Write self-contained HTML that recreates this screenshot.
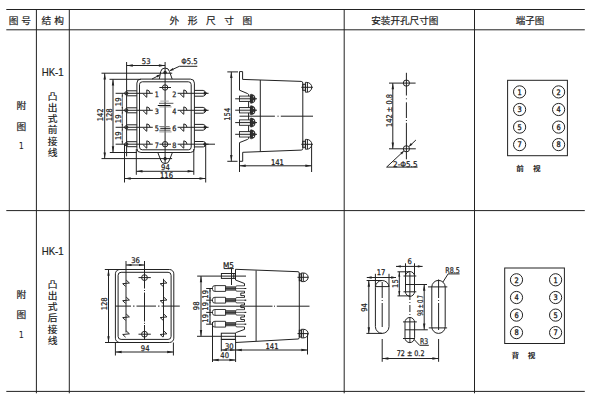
<!DOCTYPE html>
<html lang="zh"><head><meta charset="utf-8"><title>HK-1 外形尺寸图</title>
<style>html,body{margin:0;padding:0;background:#fff;overflow:hidden}svg{display:block}text{white-space:pre;fill:#222}
.c{font-family:"Liberation Sans","Noto Sans CJK SC",sans-serif}
.d{font-family:"DejaVu Sans","Liberation Sans",sans-serif}</style>
</head><body>
<svg width="600" height="400" viewBox="0 0 600 400">
<rect width="600" height="400" fill="#fff"/>
<line x1="6.30" y1="9.50" x2="584.80" y2="9.50" stroke="#222" stroke-width="1"/>
<line x1="6.30" y1="29.80" x2="584.80" y2="29.80" stroke="#222" stroke-width="1"/>
<line x1="6.30" y1="210.60" x2="584.80" y2="210.60" stroke="#222" stroke-width="1"/>
<line x1="6.30" y1="391.40" x2="584.80" y2="391.40" stroke="#222" stroke-width="1"/>
<line x1="36.40" y1="9.50" x2="36.40" y2="393.30" stroke="#222" stroke-width="1"/>
<line x1="69.30" y1="9.50" x2="69.30" y2="393.30" stroke="#222" stroke-width="1"/>
<line x1="344.20" y1="9.50" x2="344.20" y2="393.30" stroke="#222" stroke-width="1"/>
<line x1="474.50" y1="9.50" x2="474.50" y2="393.30" stroke="#222" stroke-width="1"/>
<text class="c" x="8.8 21.3" y="26.30" font-size="9.7" transform="scale(1 0.92)" stroke="#222" stroke-width="0.2">图号</text>
<text class="c" x="41.4 54.3" y="26.30" font-size="9.7" transform="scale(1 0.92)" stroke="#222" stroke-width="0.2">结构</text>
<text class="c" x="169.6 187.7 205.9 224.3 242.6" y="26.30" font-size="9.7" transform="scale(1 0.92)" stroke="#222" stroke-width="0.2">外形尺寸图</text>
<text class="c" x="371.20" y="26.30" font-size="9.7" transform="scale(1 0.92)" textLength="67.2" lengthAdjust="spacingAndGlyphs" stroke="#222" stroke-width="0.2">安装开孔尺寸图</text>
<text class="c" x="515.80" y="26.30" font-size="9.7" transform="scale(1 0.92)" textLength="28.6" lengthAdjust="spacingAndGlyphs" stroke="#222" stroke-width="0.2">端子图</text>
<text class="c" x="52.70" y="76.00" font-size="11.4" text-anchor="middle" textLength="22" lengthAdjust="spacingAndGlyphs" stroke="#222" stroke-width="0.2">HK-1</text>
<text class="c" x="21.30" y="118.91" font-size="9.7" text-anchor="middle" transform="scale(1 0.92)" stroke="#222" stroke-width="0.2">附</text>
<text class="c" x="21.30" y="140.87" font-size="9.7" text-anchor="middle" transform="scale(1 0.92)" stroke="#222" stroke-width="0.2">图</text>
<text class="d" x="21.30" y="149.20" font-size="9.2" text-anchor="middle" textLength="5.12" lengthAdjust="spacingAndGlyphs">1</text>
<text class="c" x="47.7 47.7 47.7 47.7 47.7 47.7" y="108.91 120.98 133.04 145.11 157.17 169.24" font-size="9.7" transform="scale(1 0.92)" stroke="#222" stroke-width="0.2">凸出式前接线</text>
<text class="c" x="52.70" y="254.60" font-size="11.4" text-anchor="middle" textLength="22" lengthAdjust="spacingAndGlyphs" stroke="#222" stroke-width="0.2">HK-1</text>
<text class="c" x="21.30" y="324.24" font-size="9.7" text-anchor="middle" transform="scale(1 0.92)" stroke="#222" stroke-width="0.2">附</text>
<text class="c" x="21.30" y="346.09" font-size="9.7" text-anchor="middle" transform="scale(1 0.92)" stroke="#222" stroke-width="0.2">图</text>
<text class="d" x="21.30" y="337.70" font-size="9.2" text-anchor="middle" textLength="5.12" lengthAdjust="spacingAndGlyphs">1</text>
<text class="c" x="47.7 47.7 47.7 47.7 47.7 47.7" y="313.26 325.33 337.39 349.46 361.52 373.59" font-size="9.7" transform="scale(1 0.92)" stroke="#222" stroke-width="0.2">凸出式后接线</text>
<line x1="165.10" y1="62.00" x2="165.10" y2="163.30" stroke="#222" stroke-width="1.0"/>
<rect x="136.90" y="79.10" width="57.50" height="73.40" rx="4" stroke="#222" stroke-width="1.0" fill="none"/>
<rect x="139.50" y="81.80" width="51.70" height="68.00" rx="2.8" stroke="#222" stroke-width="1.0" fill="none"/>
<path d="M159.29999999999998,79.1 L160.7,71.6 A4.5,4.5 0 0 1 169.5,71.6 L172.2,79.1" stroke="#222" stroke-width="1.0" fill="none"/>
<circle cx="165.10" cy="72.50" r="1.3" stroke="#222" stroke-width="1.0" fill="#333"/>
<path d="M157.79999999999998,152.5 L160.7,160 A4.5,4.5 0 0 0 169.5,160 L172.4,152.5" stroke="#222" stroke-width="1.0" fill="none"/>
<circle cx="165.10" cy="158.70" r="1.3" stroke="#222" stroke-width="1.0" fill="#333"/>
<circle cx="165.10" cy="87.50" r="2.7" stroke="#222" stroke-width="1.0" fill="none"/>
<line x1="159.40" y1="87.50" x2="171.00" y2="87.50" stroke="#222" stroke-width="1.0"/>
<circle cx="165.10" cy="144.20" r="2.7" stroke="#222" stroke-width="1.0" fill="none"/>
<line x1="159.40" y1="144.20" x2="171.00" y2="144.20" stroke="#222" stroke-width="1.0"/>
<line x1="115.60" y1="93.30" x2="152.80" y2="93.30" stroke="#222" stroke-width="1.0"/>
<circle cx="126.30" cy="93.30" r="1.6" stroke="#222" stroke-width="1.0" fill="none"/>
<line x1="127.00" y1="90.80" x2="136.90" y2="90.80" stroke="#222" stroke-width="1.0"/>
<line x1="127.00" y1="95.80" x2="136.90" y2="95.80" stroke="#222" stroke-width="1.0"/>
<path d="M146.80,89.90 L146.80,97.30 M146.80,89.90 Q149.70,90.10 150.00,93.30 M143.30,93.80 Q144.20,95.50 146.80,97.30" stroke="#222" stroke-width="1.0" fill="none"/>
<text class="d" x="156.90" y="96.70" font-size="7.4" text-anchor="middle" textLength="4.12" lengthAdjust="spacingAndGlyphs" stroke="#222" stroke-width="0.25">1</text>
<text class="d" x="174.20" y="96.70" font-size="7.4" text-anchor="middle" textLength="4.12" lengthAdjust="spacingAndGlyphs" stroke="#222" stroke-width="0.25">2</text>
<line x1="177.60" y1="93.30" x2="208.60" y2="93.30" stroke="#222" stroke-width="1.0"/>
<path d="M183.80,89.90 L183.80,97.30 M183.80,89.90 Q186.70,90.10 187.00,93.30 M180.30,93.80 Q181.20,95.50 183.80,97.30" stroke="#222" stroke-width="1.0" fill="none"/>
<path d="M194.4,90.40 L203.2,90.40 Q205.2,90.70 206.3,93.30 Q205.2,95.90 203.2,96.20 L194.4,96.20" stroke="#222" stroke-width="1.0" fill="none"/>
<polygon points="207.80,93.30 203.80,95.00 203.80,91.60" fill="#222"/>
<line x1="115.60" y1="110.30" x2="152.80" y2="110.30" stroke="#222" stroke-width="1.0"/>
<circle cx="126.30" cy="110.30" r="1.6" stroke="#222" stroke-width="1.0" fill="none"/>
<line x1="127.00" y1="107.80" x2="136.90" y2="107.80" stroke="#222" stroke-width="1.0"/>
<line x1="127.00" y1="112.80" x2="136.90" y2="112.80" stroke="#222" stroke-width="1.0"/>
<path d="M146.80,106.90 L146.80,114.30 M146.80,106.90 Q149.70,107.10 150.00,110.30 M143.30,110.80 Q144.20,112.50 146.80,114.30" stroke="#222" stroke-width="1.0" fill="none"/>
<text class="d" x="156.90" y="113.70" font-size="7.4" text-anchor="middle" textLength="4.12" lengthAdjust="spacingAndGlyphs" stroke="#222" stroke-width="0.25">3</text>
<text class="d" x="174.20" y="113.70" font-size="7.4" text-anchor="middle" textLength="4.12" lengthAdjust="spacingAndGlyphs" stroke="#222" stroke-width="0.25">4</text>
<line x1="177.60" y1="110.30" x2="208.60" y2="110.30" stroke="#222" stroke-width="1.0"/>
<path d="M183.80,106.90 L183.80,114.30 M183.80,106.90 Q186.70,107.10 187.00,110.30 M180.30,110.80 Q181.20,112.50 183.80,114.30" stroke="#222" stroke-width="1.0" fill="none"/>
<path d="M194.4,107.40 L203.2,107.40 Q205.2,107.70 206.3,110.30 Q205.2,112.90 203.2,113.20 L194.4,113.20" stroke="#222" stroke-width="1.0" fill="none"/>
<polygon points="207.80,110.30 203.80,112.00 203.80,108.60" fill="#222"/>
<line x1="115.60" y1="127.30" x2="152.80" y2="127.30" stroke="#222" stroke-width="1.0"/>
<circle cx="126.30" cy="127.30" r="1.6" stroke="#222" stroke-width="1.0" fill="none"/>
<line x1="127.00" y1="124.80" x2="136.90" y2="124.80" stroke="#222" stroke-width="1.0"/>
<line x1="127.00" y1="129.80" x2="136.90" y2="129.80" stroke="#222" stroke-width="1.0"/>
<path d="M146.80,123.90 L146.80,131.30 M146.80,123.90 Q149.70,124.10 150.00,127.30 M143.30,127.80 Q144.20,129.50 146.80,131.30" stroke="#222" stroke-width="1.0" fill="none"/>
<text class="d" x="156.90" y="130.70" font-size="7.4" text-anchor="middle" textLength="4.12" lengthAdjust="spacingAndGlyphs" stroke="#222" stroke-width="0.25">5</text>
<text class="d" x="174.20" y="130.70" font-size="7.4" text-anchor="middle" textLength="4.12" lengthAdjust="spacingAndGlyphs" stroke="#222" stroke-width="0.25">6</text>
<line x1="177.60" y1="127.30" x2="208.60" y2="127.30" stroke="#222" stroke-width="1.0"/>
<path d="M183.80,123.90 L183.80,131.30 M183.80,123.90 Q186.70,124.10 187.00,127.30 M180.30,127.80 Q181.20,129.50 183.80,131.30" stroke="#222" stroke-width="1.0" fill="none"/>
<path d="M194.4,124.40 L203.2,124.40 Q205.2,124.70 206.3,127.30 Q205.2,129.90 203.2,130.20 L194.4,130.20" stroke="#222" stroke-width="1.0" fill="none"/>
<polygon points="207.80,127.30 203.80,129.00 203.80,125.60" fill="#222"/>
<line x1="115.60" y1="144.20" x2="152.80" y2="144.20" stroke="#222" stroke-width="1.0"/>
<circle cx="126.30" cy="144.20" r="1.6" stroke="#222" stroke-width="1.0" fill="none"/>
<line x1="127.00" y1="141.70" x2="136.90" y2="141.70" stroke="#222" stroke-width="1.0"/>
<line x1="127.00" y1="146.70" x2="136.90" y2="146.70" stroke="#222" stroke-width="1.0"/>
<path d="M146.80,140.80 L146.80,148.20 M146.80,140.80 Q149.70,141.00 150.00,144.20 M143.30,144.70 Q144.20,146.40 146.80,148.20" stroke="#222" stroke-width="1.0" fill="none"/>
<text class="d" x="156.90" y="147.60" font-size="7.4" text-anchor="middle" textLength="4.12" lengthAdjust="spacingAndGlyphs" stroke="#222" stroke-width="0.25">7</text>
<text class="d" x="174.20" y="147.60" font-size="7.4" text-anchor="middle" textLength="4.12" lengthAdjust="spacingAndGlyphs" stroke="#222" stroke-width="0.25">8</text>
<line x1="177.60" y1="144.20" x2="208.60" y2="144.20" stroke="#222" stroke-width="1.0"/>
<path d="M183.80,140.80 L183.80,148.20 M183.80,140.80 Q186.70,141.00 187.00,144.20 M180.30,144.70 Q181.20,146.40 183.80,148.20" stroke="#222" stroke-width="1.0" fill="none"/>
<path d="M194.4,141.50 L203.4,141.50 Q205.6,141.70 205.6,144.20 Q205.6,146.70 203.4,146.90 L194.4,146.90" stroke="#222" stroke-width="1.0" fill="none"/>
<circle cx="204.90" cy="144.20" r="1.2" stroke="#222" stroke-width="0.8" fill="#222"/>
<line x1="160.30" y1="101.10" x2="168.80" y2="101.10" stroke="#aaa" stroke-width="1.0"/>
<line x1="159.00" y1="103.30" x2="173.40" y2="103.30" stroke="#444" stroke-width="0.9"/>
<line x1="157.80" y1="105.50" x2="170.50" y2="105.50" stroke="#111" stroke-width="1.0"/>
<line x1="159.30" y1="106.90" x2="171.50" y2="106.90" stroke="#888" stroke-width="0.9"/>
<line x1="159.30" y1="126.50" x2="169.70" y2="126.50" stroke="#777" stroke-width="0.9"/>
<line x1="160.30" y1="128.30" x2="170.50" y2="128.30" stroke="#111" stroke-width="1.0"/>
<line x1="159.30" y1="130.20" x2="170.50" y2="130.20" stroke="#444" stroke-width="0.9"/>
<line x1="159.30" y1="131.90" x2="171.50" y2="131.90" stroke="#888" stroke-width="0.9"/>
<line x1="126.60" y1="62.00" x2="126.60" y2="156.30" stroke="#222" stroke-width="1.0"/>
<line x1="126.60" y1="65.50" x2="165.10" y2="65.50" stroke="#222" stroke-width="1.0"/>
<polygon points="126.60,65.50 132.80,64.30 132.80,66.70" fill="#222"/>
<polygon points="165.10,65.50 158.90,66.70 158.90,64.30" fill="#222"/>
<text class="d" x="146.20" y="63.60" font-size="7.8" text-anchor="middle" textLength="8.68" lengthAdjust="spacingAndGlyphs" stroke="#222" stroke-width="0.25">53</text>
<line x1="170.00" y1="70.60" x2="179.40" y2="66.30" stroke="#222" stroke-width="1.0"/>
<line x1="179.40" y1="66.30" x2="197.30" y2="66.30" stroke="#222" stroke-width="1.0"/>
<polygon points="169.60,70.80 172.74,68.04 173.74,70.23" fill="#222"/>
<text class="d" x="181.30" y="63.60" font-size="7.8" textLength="16.4" lengthAdjust="spacingAndGlyphs" stroke="#222" stroke-width="0.25">Φ5.5</text>
<line x1="152.00" y1="79.00" x2="159.40" y2="75.20" stroke="#222" stroke-width="1.0"/>
<polygon points="160.60,74.60 157.59,77.49 156.49,75.36" fill="#222"/>
<line x1="101.50" y1="73.20" x2="172.20" y2="73.20" stroke="#222" stroke-width="1.0"/>
<line x1="101.50" y1="158.60" x2="172.10" y2="158.60" stroke="#222" stroke-width="1.0"/>
<line x1="104.70" y1="73.20" x2="104.70" y2="158.60" stroke="#222" stroke-width="1.0"/>
<polygon points="104.70,73.20 105.90,79.40 103.50,79.40" fill="#222"/>
<polygon points="104.70,158.60 103.50,152.40 105.90,152.40" fill="#222"/>
<text class="d" x="103.20" y="114.80" font-size="7.8" text-anchor="middle" transform="rotate(-90 103.20 114.80)" textLength="13.03" lengthAdjust="spacingAndGlyphs" stroke="#222" stroke-width="0.25">142</text>
<line x1="109.50" y1="79.30" x2="141.00" y2="79.30" stroke="#222" stroke-width="1.0"/>
<line x1="109.80" y1="152.50" x2="137.00" y2="152.50" stroke="#222" stroke-width="1.0"/>
<line x1="113.00" y1="79.30" x2="113.00" y2="152.50" stroke="#222" stroke-width="1.0"/>
<polygon points="113.00,79.30 114.20,85.50 111.80,85.50" fill="#222"/>
<polygon points="113.00,152.50 111.80,146.30 114.20,146.30" fill="#222"/>
<text class="d" x="112.00" y="114.80" font-size="7.8" text-anchor="middle" transform="rotate(-90 112.00 114.80)" textLength="13.03" lengthAdjust="spacingAndGlyphs" stroke="#222" stroke-width="0.25">128</text>
<line x1="122.30" y1="93.30" x2="122.30" y2="144.20" stroke="#222" stroke-width="0.7"/>
<polygon points="122.30,93.30 122.90,96.50 121.70,96.50" fill="#222"/>
<polygon points="122.30,110.30 121.70,107.10 122.90,107.10" fill="#222"/>
<text class="d" x="120.80" y="101.80" font-size="7.8" text-anchor="middle" transform="rotate(-90 120.80 101.80)" textLength="8.68" lengthAdjust="spacingAndGlyphs" stroke="#222" stroke-width="0.25">19</text>
<polygon points="122.30,110.30 122.90,113.50 121.70,113.50" fill="#222"/>
<polygon points="122.30,127.30 121.70,124.10 122.90,124.10" fill="#222"/>
<text class="d" x="120.80" y="118.80" font-size="7.8" text-anchor="middle" transform="rotate(-90 120.80 118.80)" textLength="8.68" lengthAdjust="spacingAndGlyphs" stroke="#222" stroke-width="0.25">19</text>
<polygon points="122.30,127.30 122.90,130.50 121.70,130.50" fill="#222"/>
<polygon points="122.30,144.20 121.70,141.00 122.90,141.00" fill="#222"/>
<text class="d" x="120.80" y="135.75" font-size="7.8" text-anchor="middle" transform="rotate(-90 120.80 135.75)" textLength="8.68" lengthAdjust="spacingAndGlyphs" stroke="#222" stroke-width="0.25">19</text>
<line x1="136.30" y1="149.00" x2="136.30" y2="174.80" stroke="#222" stroke-width="1.0"/>
<line x1="193.80" y1="149.00" x2="193.80" y2="174.80" stroke="#222" stroke-width="1.0"/>
<line x1="136.30" y1="171.30" x2="193.80" y2="171.30" stroke="#222" stroke-width="1.0"/>
<polygon points="136.30,171.30 142.50,170.10 142.50,172.50" fill="#222"/>
<polygon points="193.80,171.30 187.60,172.50 187.60,170.10" fill="#222"/>
<text class="d" x="165.40" y="169.50" font-size="7.8" text-anchor="middle" textLength="8.68" lengthAdjust="spacingAndGlyphs" stroke="#222" stroke-width="0.25">94</text>
<line x1="124.50" y1="144.20" x2="124.50" y2="182.50" stroke="#222" stroke-width="1.0"/>
<line x1="205.70" y1="144.20" x2="205.70" y2="182.50" stroke="#222" stroke-width="1.0"/>
<line x1="124.50" y1="178.50" x2="205.70" y2="178.50" stroke="#222" stroke-width="1.0"/>
<polygon points="124.50,178.50 130.70,177.30 130.70,179.70" fill="#222"/>
<polygon points="205.70,178.50 199.50,179.70 199.50,177.30" fill="#222"/>
<text class="d" x="166.50" y="177.60" font-size="7.8" text-anchor="middle" textLength="13.03" lengthAdjust="spacingAndGlyphs" stroke="#222" stroke-width="0.25">116</text>
<line x1="205.00" y1="144.20" x2="215.00" y2="144.20" stroke="#222" stroke-width="1.0"/>
<path d="M239.5,71.6 L242.6,71.6 L242.6,79.4 L301.2,81.4 Q302.8,81.5 302.8,83 L302.8,148.6 Q302.8,150 301.2,150.1 L242.7,152.3 L242.7,161.3 L239.5,161.3" stroke="#222" stroke-width="1.0" fill="none"/>
<path d="M239.5,71.6 L239.5,90.2 L247.6,93.6 L248.6,94.4 L248.6,96.2" stroke="#222" stroke-width="1.0" fill="none"/>
<path d="M239.5,172 L239.5,142.6 L247.6,139.4 L248.6,138.6 L248.6,136.9" stroke="#222" stroke-width="1.0" fill="none"/>
<line x1="260.30" y1="80.00" x2="260.30" y2="151.60" stroke="#222" stroke-width="1.0"/>
<line x1="235.20" y1="98.80" x2="257.00" y2="98.80" stroke="#222" stroke-width="1.0"/>
<rect x="239.50" y="96.10" width="11.00" height="5.40" rx="0" stroke="#222" stroke-width="0.9" fill="none"/>
<line x1="240.50" y1="97.30" x2="249.50" y2="97.30" stroke="#ccc" stroke-width="0.5"/>
<line x1="240.50" y1="100.40" x2="249.50" y2="100.40" stroke="#ccc" stroke-width="0.5"/>
<path d="M250.3,94.50 L251.6,94.30 Q255.3,95.00 255.3,98.80 Q255.3,102.60 251.6,103.30 L250.3,103.10 Z" stroke="#222" stroke-width="0.6" fill="#2e2e2e"/>
<circle cx="253.50" cy="96.80" r="0.55" stroke="#eee" stroke-width="0.1" fill="#eee"/>
<circle cx="253.50" cy="100.90" r="0.55" stroke="#eee" stroke-width="0.1" fill="#eee"/>
<line x1="235.20" y1="110.20" x2="257.00" y2="110.20" stroke="#222" stroke-width="1.0"/>
<rect x="239.50" y="107.50" width="11.00" height="5.40" rx="0" stroke="#222" stroke-width="0.9" fill="none"/>
<line x1="240.50" y1="108.70" x2="249.50" y2="108.70" stroke="#ccc" stroke-width="0.5"/>
<line x1="240.50" y1="111.80" x2="249.50" y2="111.80" stroke="#ccc" stroke-width="0.5"/>
<path d="M250.3,105.90 L251.6,105.70 Q255.3,106.40 255.3,110.20 Q255.3,114.00 251.6,114.70 L250.3,114.50 Z" stroke="#222" stroke-width="0.6" fill="#2e2e2e"/>
<circle cx="253.50" cy="108.20" r="0.55" stroke="#eee" stroke-width="0.1" fill="#eee"/>
<circle cx="253.50" cy="112.30" r="0.55" stroke="#eee" stroke-width="0.1" fill="#eee"/>
<line x1="235.20" y1="122.60" x2="257.00" y2="122.60" stroke="#222" stroke-width="1.0"/>
<rect x="239.50" y="119.90" width="11.00" height="5.40" rx="0" stroke="#222" stroke-width="0.9" fill="none"/>
<line x1="240.50" y1="121.10" x2="249.50" y2="121.10" stroke="#ccc" stroke-width="0.5"/>
<line x1="240.50" y1="124.20" x2="249.50" y2="124.20" stroke="#ccc" stroke-width="0.5"/>
<path d="M250.3,118.30 L251.6,118.10 Q255.3,118.80 255.3,122.60 Q255.3,126.40 251.6,127.10 L250.3,126.90 Z" stroke="#222" stroke-width="0.6" fill="#2e2e2e"/>
<circle cx="253.50" cy="120.60" r="0.55" stroke="#eee" stroke-width="0.1" fill="#eee"/>
<circle cx="253.50" cy="124.70" r="0.55" stroke="#eee" stroke-width="0.1" fill="#eee"/>
<line x1="235.20" y1="134.30" x2="257.00" y2="134.30" stroke="#222" stroke-width="1.0"/>
<rect x="239.50" y="131.60" width="11.00" height="5.40" rx="0" stroke="#222" stroke-width="0.9" fill="none"/>
<line x1="240.50" y1="132.80" x2="249.50" y2="132.80" stroke="#ccc" stroke-width="0.5"/>
<line x1="240.50" y1="135.90" x2="249.50" y2="135.90" stroke="#ccc" stroke-width="0.5"/>
<path d="M250.3,130.00 L251.6,129.80 Q255.3,130.50 255.3,134.30 Q255.3,138.10 251.6,138.80 L250.3,138.60 Z" stroke="#222" stroke-width="0.6" fill="#2e2e2e"/>
<circle cx="253.50" cy="132.30" r="0.55" stroke="#eee" stroke-width="0.1" fill="#eee"/>
<circle cx="253.50" cy="136.40" r="0.55" stroke="#eee" stroke-width="0.1" fill="#eee"/>
<line x1="248.60" y1="101.50" x2="248.60" y2="107.50" stroke="#222" stroke-width="1.0"/>
<line x1="248.60" y1="112.90" x2="248.60" y2="119.90" stroke="#222" stroke-width="1.0"/>
<line x1="248.60" y1="125.30" x2="248.60" y2="131.60" stroke="#222" stroke-width="1.0"/>
<line x1="239.50" y1="116.20" x2="274.90" y2="116.20" stroke="#222" stroke-width="1.0"/>
<line x1="277.50" y1="116.20" x2="278.60" y2="116.20" stroke="#222" stroke-width="1.0"/>
<line x1="280.80" y1="116.20" x2="313.00" y2="116.20" stroke="#222" stroke-width="1.0"/>
<rect x="302.80" y="84.30" width="2.60" height="6.00" rx="0" stroke="#222" stroke-width="1.0" fill="none"/>
<path d="M305.40,82.40 L306.80,82.40 A5,4.9 0 0 1 306.80,92.20 L305.40,92.20 Z" stroke="#222" stroke-width="1.0" fill="none"/>
<line x1="307.40" y1="82.50" x2="307.40" y2="92.10" stroke="#222" stroke-width="1.0"/>
<line x1="301.30" y1="87.30" x2="312.80" y2="87.30" stroke="#222" stroke-width="1.0"/>
<rect x="302.80" y="141.30" width="2.60" height="6.00" rx="0" stroke="#222" stroke-width="1.0" fill="none"/>
<path d="M305.40,139.40 L306.80,139.40 A5,4.9 0 0 1 306.80,149.20 L305.40,149.20 Z" stroke="#222" stroke-width="1.0" fill="none"/>
<line x1="307.40" y1="139.50" x2="307.40" y2="149.10" stroke="#222" stroke-width="1.0"/>
<line x1="301.30" y1="144.30" x2="312.80" y2="144.30" stroke="#222" stroke-width="1.0"/>
<line x1="227.30" y1="71.90" x2="238.00" y2="71.90" stroke="#222" stroke-width="1.0"/>
<line x1="227.30" y1="161.30" x2="237.50" y2="161.30" stroke="#222" stroke-width="1.0"/>
<line x1="231.30" y1="71.90" x2="231.30" y2="161.30" stroke="#222" stroke-width="1.0"/>
<polygon points="231.30,71.90 232.50,78.10 230.10,78.10" fill="#222"/>
<polygon points="231.30,161.30 230.10,155.10 232.50,155.10" fill="#222"/>
<text class="d" x="229.60" y="114.20" font-size="7.8" text-anchor="middle" transform="rotate(-90 229.60 114.20)" textLength="13.03" lengthAdjust="spacingAndGlyphs" stroke="#222" stroke-width="0.25">154</text>
<line x1="311.60" y1="144.30" x2="311.60" y2="172.00" stroke="#222" stroke-width="1.0"/>
<line x1="239.50" y1="165.80" x2="311.60" y2="165.80" stroke="#222" stroke-width="1.0"/>
<polygon points="239.50,165.80 245.70,164.60 245.70,167.00" fill="#222"/>
<polygon points="311.60,165.80 305.40,167.00 305.40,164.60" fill="#222"/>
<text class="d" x="277.40" y="164.50" font-size="7.8" text-anchor="middle" textLength="13.03" lengthAdjust="spacingAndGlyphs" stroke="#222" stroke-width="0.25">141</text>
<circle cx="406.40" cy="83.10" r="3.1" stroke="#222" stroke-width="1.0" fill="none"/>
<circle cx="406.40" cy="148.80" r="3.1" stroke="#222" stroke-width="1.0" fill="none"/>
<line x1="389.00" y1="83.10" x2="415.60" y2="83.10" stroke="#222" stroke-width="1.0"/>
<line x1="389.00" y1="148.80" x2="415.80" y2="148.80" stroke="#222" stroke-width="1.0"/>
<line x1="406.40" y1="72.80" x2="406.40" y2="95.50" stroke="#222" stroke-width="1.0"/>
<line x1="406.40" y1="98.30" x2="406.40" y2="99.30" stroke="#222" stroke-width="1.0"/>
<line x1="406.40" y1="102.30" x2="406.40" y2="118.00" stroke="#222" stroke-width="1.0"/>
<line x1="406.40" y1="120.00" x2="406.40" y2="121.00" stroke="#222" stroke-width="1.0"/>
<line x1="406.40" y1="122.80" x2="406.40" y2="159.30" stroke="#222" stroke-width="1.0"/>
<line x1="392.80" y1="83.10" x2="392.80" y2="148.80" stroke="#222" stroke-width="1.0"/>
<polygon points="392.80,83.10 394.00,89.30 391.60,89.30" fill="#222"/>
<polygon points="392.80,148.80 391.60,142.60 394.00,142.60" fill="#222"/>
<text class="d" x="391.60" y="110.50" font-size="7.8" text-anchor="middle" transform="rotate(-90 391.60 110.50)" textLength="33" lengthAdjust="spacingAndGlyphs" stroke="#222" stroke-width="0.25">142 ± 0.8</text>
<line x1="386.60" y1="167.10" x2="417.60" y2="167.10" stroke="#222" stroke-width="1.0"/>
<line x1="386.60" y1="167.10" x2="403.40" y2="151.40" stroke="#222" stroke-width="1.0"/>
<polygon points="404.20,150.80 401.95,154.54 400.31,152.79" fill="#222"/>
<line x1="415.90" y1="140.00" x2="409.40" y2="146.20" stroke="#222" stroke-width="1.0"/>
<polygon points="408.60,146.80 410.81,143.03 412.47,144.77" fill="#222"/>
<text class="d" x="393.10" y="166.50" font-size="7.8" textLength="24.4" lengthAdjust="spacingAndGlyphs" stroke="#222" stroke-width="0.25">2-Φ5.5</text>
<rect x="507.60" y="80.30" width="59.80" height="75.40" rx="0" stroke="#222" stroke-width="1" fill="none"/>
<circle cx="519.60" cy="91.90" r="6.1" stroke="#222" stroke-width="1.0" fill="none"/>
<text class="d" x="519.60" y="94.70" font-size="7.6" text-anchor="middle" textLength="4.23" lengthAdjust="spacingAndGlyphs" stroke="#222" stroke-width="0.35">1</text>
<circle cx="558.60" cy="91.90" r="6.1" stroke="#222" stroke-width="1.0" fill="none"/>
<text class="d" x="558.60" y="94.70" font-size="7.6" text-anchor="middle" textLength="4.23" lengthAdjust="spacingAndGlyphs" stroke="#222" stroke-width="0.35">2</text>
<circle cx="519.60" cy="109.50" r="6.1" stroke="#222" stroke-width="1.0" fill="none"/>
<text class="d" x="519.60" y="112.30" font-size="7.6" text-anchor="middle" textLength="4.23" lengthAdjust="spacingAndGlyphs" stroke="#222" stroke-width="0.35">3</text>
<circle cx="558.60" cy="109.50" r="6.1" stroke="#222" stroke-width="1.0" fill="none"/>
<text class="d" x="558.60" y="112.30" font-size="7.6" text-anchor="middle" textLength="4.23" lengthAdjust="spacingAndGlyphs" stroke="#222" stroke-width="0.35">4</text>
<circle cx="519.60" cy="127.10" r="6.1" stroke="#222" stroke-width="1.0" fill="none"/>
<text class="d" x="519.60" y="129.90" font-size="7.6" text-anchor="middle" textLength="4.23" lengthAdjust="spacingAndGlyphs" stroke="#222" stroke-width="0.35">5</text>
<circle cx="558.60" cy="127.10" r="6.1" stroke="#222" stroke-width="1.0" fill="none"/>
<text class="d" x="558.60" y="129.90" font-size="7.6" text-anchor="middle" textLength="4.23" lengthAdjust="spacingAndGlyphs" stroke="#222" stroke-width="0.35">6</text>
<circle cx="519.60" cy="144.60" r="6.1" stroke="#222" stroke-width="1.0" fill="none"/>
<text class="d" x="519.60" y="147.40" font-size="7.6" text-anchor="middle" textLength="4.23" lengthAdjust="spacingAndGlyphs" stroke="#222" stroke-width="0.35">7</text>
<circle cx="558.60" cy="144.60" r="6.1" stroke="#222" stroke-width="1.0" fill="none"/>
<text class="d" x="558.60" y="147.40" font-size="7.6" text-anchor="middle" textLength="4.23" lengthAdjust="spacingAndGlyphs" stroke="#222" stroke-width="0.35">8</text>
<text class="c" x="516.3 532.9" y="199.19" font-size="7.6" transform="scale(1 0.86)" font-weight="bold">前视</text>
<rect x="504.70" y="268.00" width="59.70" height="75.50" rx="0" stroke="#222" stroke-width="1" fill="none"/>
<circle cx="516.50" cy="279.80" r="6.1" stroke="#222" stroke-width="1.0" fill="none"/>
<text class="d" x="516.50" y="282.60" font-size="7.6" text-anchor="middle" textLength="4.23" lengthAdjust="spacingAndGlyphs" stroke="#222" stroke-width="0.35">2</text>
<circle cx="555.60" cy="279.80" r="6.1" stroke="#222" stroke-width="1.0" fill="none"/>
<text class="d" x="555.60" y="282.60" font-size="7.6" text-anchor="middle" textLength="4.23" lengthAdjust="spacingAndGlyphs" stroke="#222" stroke-width="0.35">1</text>
<circle cx="516.50" cy="297.50" r="6.1" stroke="#222" stroke-width="1.0" fill="none"/>
<text class="d" x="516.50" y="300.30" font-size="7.6" text-anchor="middle" textLength="4.23" lengthAdjust="spacingAndGlyphs" stroke="#222" stroke-width="0.35">4</text>
<circle cx="555.60" cy="297.50" r="6.1" stroke="#222" stroke-width="1.0" fill="none"/>
<text class="d" x="555.60" y="300.30" font-size="7.6" text-anchor="middle" textLength="4.23" lengthAdjust="spacingAndGlyphs" stroke="#222" stroke-width="0.35">3</text>
<circle cx="516.50" cy="315.10" r="6.1" stroke="#222" stroke-width="1.0" fill="none"/>
<text class="d" x="516.50" y="317.90" font-size="7.6" text-anchor="middle" textLength="4.23" lengthAdjust="spacingAndGlyphs" stroke="#222" stroke-width="0.35">6</text>
<circle cx="555.60" cy="315.10" r="6.1" stroke="#222" stroke-width="1.0" fill="none"/>
<text class="d" x="555.60" y="317.90" font-size="7.6" text-anchor="middle" textLength="4.23" lengthAdjust="spacingAndGlyphs" stroke="#222" stroke-width="0.35">5</text>
<circle cx="516.50" cy="332.60" r="6.1" stroke="#222" stroke-width="1.0" fill="none"/>
<text class="d" x="516.50" y="335.40" font-size="7.6" text-anchor="middle" textLength="4.23" lengthAdjust="spacingAndGlyphs" stroke="#222" stroke-width="0.35">8</text>
<circle cx="555.60" cy="332.60" r="6.1" stroke="#222" stroke-width="1.0" fill="none"/>
<text class="d" x="555.60" y="335.40" font-size="7.6" text-anchor="middle" textLength="4.23" lengthAdjust="spacingAndGlyphs" stroke="#222" stroke-width="0.35">7</text>
<text class="c" x="511.5 527.8" y="416.51" font-size="7.6" transform="scale(1 0.86)" font-weight="bold">背视</text>
<rect x="115.40" y="269.50" width="58.40" height="73.00" rx="4.3" stroke="#222" stroke-width="1.0" fill="none"/>
<rect x="118.10" y="272.30" width="53.00" height="67.10" rx="3" stroke="#222" stroke-width="1.0" fill="none"/>
<line x1="104.80" y1="269.50" x2="120.00" y2="269.50" stroke="#222" stroke-width="1.0"/>
<line x1="105.00" y1="342.50" x2="120.00" y2="342.50" stroke="#222" stroke-width="1.0"/>
<line x1="108.50" y1="269.50" x2="108.50" y2="342.50" stroke="#222" stroke-width="1.0"/>
<polygon points="108.50,269.50 109.70,275.70 107.30,275.70" fill="#222"/>
<polygon points="108.50,342.50 107.30,336.30 109.70,336.30" fill="#222"/>
<text class="d" x="106.90" y="303.80" font-size="7.8" text-anchor="middle" transform="rotate(-90 106.90 303.80)" textLength="13.03" lengthAdjust="spacingAndGlyphs" stroke="#222" stroke-width="0.25">128</text>
<line x1="126.00" y1="261.00" x2="126.00" y2="332.50" stroke="#222" stroke-width="1.0"/>
<line x1="144.50" y1="261.00" x2="144.50" y2="288.50" stroke="#222" stroke-width="1.0"/>
<line x1="144.50" y1="290.00" x2="144.50" y2="291.00" stroke="#222" stroke-width="1.0"/>
<line x1="144.50" y1="292.50" x2="144.50" y2="321.50" stroke="#222" stroke-width="1.0"/>
<line x1="144.50" y1="322.80" x2="144.50" y2="323.80" stroke="#222" stroke-width="1.0"/>
<line x1="144.50" y1="325.00" x2="144.50" y2="339.80" stroke="#222" stroke-width="1.0"/>
<line x1="163.50" y1="278.80" x2="163.50" y2="336.80" stroke="#222" stroke-width="1.0"/>
<line x1="126.00" y1="265.00" x2="144.50" y2="265.00" stroke="#222" stroke-width="1.0"/>
<polygon points="126.00,265.00 131.50,264.00 131.50,266.00" fill="#222"/>
<polygon points="144.50,265.00 139.00,266.00 139.00,264.00" fill="#222"/>
<text class="d" x="135.60" y="262.80" font-size="7.8" text-anchor="middle" textLength="8.68" lengthAdjust="spacingAndGlyphs" stroke="#222" stroke-width="0.25">36</text>
<circle cx="144.50" cy="277.60" r="2.9" stroke="#222" stroke-width="1.0" fill="none"/>
<line x1="138.50" y1="277.60" x2="150.80" y2="277.60" stroke="#222" stroke-width="1.0"/>
<circle cx="144.50" cy="334.20" r="2.9" stroke="#222" stroke-width="1.0" fill="none"/>
<line x1="138.50" y1="334.20" x2="150.80" y2="334.20" stroke="#222" stroke-width="1.0"/>
<path d="M126.20,280.10 L129.40,283.00 L122.70,283.70 L125.60,286.40" stroke="#222" stroke-width="1.0" fill="none"/>
<path d="M163.70,280.10 L166.90,283.00 L160.20,283.70 L163.10,286.40" stroke="#222" stroke-width="1.0" fill="none"/>
<path d="M126.20,297.10 L129.40,300.00 L122.70,300.70 L125.60,303.40" stroke="#222" stroke-width="1.0" fill="none"/>
<path d="M163.70,297.10 L166.90,300.00 L160.20,300.70 L163.10,303.40" stroke="#222" stroke-width="1.0" fill="none"/>
<path d="M126.20,314.00 L129.40,316.90 L122.70,317.60 L125.60,320.30" stroke="#222" stroke-width="1.0" fill="none"/>
<path d="M163.70,314.00 L166.90,316.90 L160.20,317.60 L163.10,320.30" stroke="#222" stroke-width="1.0" fill="none"/>
<path d="M126.20,330.90 L129.40,333.80 L122.70,334.50 L125.60,337.20" stroke="#222" stroke-width="1.0" fill="none"/>
<path d="M163.70,330.90 L166.90,333.80 L160.20,334.50 L163.10,337.20" stroke="#222" stroke-width="1.0" fill="none"/>
<line x1="115.30" y1="306.10" x2="131.00" y2="306.10" stroke="#222" stroke-width="1.0"/>
<line x1="133.00" y1="306.10" x2="134.50" y2="306.10" stroke="#222" stroke-width="1.0"/>
<line x1="136.50" y1="306.10" x2="156.00" y2="306.10" stroke="#222" stroke-width="1.0"/>
<line x1="158.00" y1="306.10" x2="159.50" y2="306.10" stroke="#222" stroke-width="1.0"/>
<line x1="161.50" y1="306.10" x2="179.80" y2="306.10" stroke="#222" stroke-width="1.0"/>
<line x1="115.40" y1="342.50" x2="115.40" y2="355.50" stroke="#222" stroke-width="1.0"/>
<line x1="173.40" y1="342.50" x2="173.40" y2="355.50" stroke="#222" stroke-width="1.0"/>
<line x1="115.40" y1="352.00" x2="173.40" y2="352.00" stroke="#222" stroke-width="1.0"/>
<polygon points="115.40,352.00 121.60,350.80 121.60,353.20" fill="#222"/>
<polygon points="173.40,352.00 167.20,353.20 167.20,350.80" fill="#222"/>
<text class="d" x="145.20" y="350.70" font-size="7.8" text-anchor="middle" textLength="8.68" lengthAdjust="spacingAndGlyphs" stroke="#222" stroke-width="0.25">94</text>
<path d="M235.5,269.3 L298,271.7 Q299.3,271.8 299.3,273.2 L299.3,337.5 Q299.3,338.9 298,339 L235.5,342.5" stroke="#222" stroke-width="1.0" fill="none"/>
<path d="M235.5,269.3 L235.5,280 L244.5,283.5 L244.5,286" stroke="#222" stroke-width="1.0" fill="none"/>
<path d="M244.5,327 L244.5,329.4 L236.2,332.5 L235.5,333.1" stroke="#222" stroke-width="1.0" fill="none"/>
<line x1="235.60" y1="339.40" x2="235.60" y2="362.00" stroke="#222" stroke-width="1.0"/>
<line x1="256.10" y1="270.50" x2="256.10" y2="341.00" stroke="#222" stroke-width="1.0"/>
<rect x="221.40" y="273.50" width="14.10" height="4.90" rx="0" stroke="#222" stroke-width="1.0" fill="none"/>
<line x1="197.20" y1="276.10" x2="246.00" y2="276.10" stroke="#222" stroke-width="1.0"/>
<line x1="233.80" y1="273.50" x2="233.80" y2="278.40" stroke="#222" stroke-width="1.0"/>
<line x1="223.80" y1="268.60" x2="233.80" y2="268.60" stroke="#222" stroke-width="1.0"/>
<line x1="231.50" y1="268.60" x2="231.50" y2="285.00" stroke="#222" stroke-width="1.0"/>
<text class="d" x="223.00" y="267.70" font-size="7.8" textLength="11" lengthAdjust="spacingAndGlyphs" stroke="#222" stroke-width="0.25">M5</text>
<rect x="221.30" y="333.20" width="14.10" height="6.20" rx="0" stroke="#222" stroke-width="1.0" fill="none"/>
<line x1="197.00" y1="336.30" x2="246.00" y2="336.30" stroke="#222" stroke-width="1.0"/>
<line x1="221.30" y1="339.40" x2="235.40" y2="339.40" stroke="#222" stroke-width="1.0"/>
<line x1="206.20" y1="288.50" x2="246.20" y2="288.50" stroke="#222" stroke-width="1.0"/>
<path d="M225.6,285.60 L214.9,285.60 Q212.5,285.60 212.5,287.60 L212.5,289.40 Q212.5,291.40 214.9,291.40 L225.6,291.40 Z" stroke="#222" stroke-width="0.9" fill="#fff"/>
<line x1="215.00" y1="285.70" x2="215.00" y2="291.30" stroke="#222" stroke-width="0.7"/>
<rect x="225.60" y="286.80" width="9.90" height="3.40" rx="0" stroke="#222" stroke-width="0.6" fill="#666"/>
<path d="M244.5,285.80 L237,285.80 Q235.6,285.90 235.6,287.00 L235.6,290.00 Q235.6,291.10 237,291.20 L244.5,291.20" stroke="#222" stroke-width="0.8" fill="#fff"/>
<line x1="225.00" y1="288.50" x2="246.20" y2="288.50" stroke="#222" stroke-width="0.7"/>
<line x1="206.20" y1="300.20" x2="246.20" y2="300.20" stroke="#222" stroke-width="1.0"/>
<path d="M225.6,297.30 L214.9,297.30 Q212.5,297.30 212.5,299.30 L212.5,301.10 Q212.5,303.10 214.9,303.10 L225.6,303.10 Z" stroke="#222" stroke-width="0.9" fill="#fff"/>
<line x1="215.00" y1="297.40" x2="215.00" y2="303.00" stroke="#222" stroke-width="0.7"/>
<rect x="225.60" y="298.50" width="9.90" height="3.40" rx="0" stroke="#222" stroke-width="0.6" fill="#666"/>
<path d="M244.5,297.50 L237,297.50 Q235.6,297.60 235.6,298.70 L235.6,301.70 Q235.6,302.80 237,302.90 L244.5,302.90" stroke="#222" stroke-width="0.8" fill="#fff"/>
<line x1="225.00" y1="300.20" x2="246.20" y2="300.20" stroke="#222" stroke-width="0.7"/>
<line x1="206.20" y1="312.40" x2="246.20" y2="312.40" stroke="#222" stroke-width="1.0"/>
<path d="M225.6,309.50 L214.9,309.50 Q212.5,309.50 212.5,311.50 L212.5,313.30 Q212.5,315.30 214.9,315.30 L225.6,315.30 Z" stroke="#222" stroke-width="0.9" fill="#fff"/>
<line x1="215.00" y1="309.60" x2="215.00" y2="315.20" stroke="#222" stroke-width="0.7"/>
<rect x="225.60" y="310.70" width="9.90" height="3.40" rx="0" stroke="#222" stroke-width="0.6" fill="#666"/>
<path d="M244.5,309.70 L237,309.70 Q235.6,309.80 235.6,310.90 L235.6,313.90 Q235.6,315.00 237,315.10 L244.5,315.10" stroke="#222" stroke-width="0.8" fill="#fff"/>
<line x1="225.00" y1="312.40" x2="246.20" y2="312.40" stroke="#222" stroke-width="0.7"/>
<line x1="206.20" y1="324.20" x2="246.20" y2="324.20" stroke="#222" stroke-width="1.0"/>
<path d="M225.6,321.30 L214.9,321.30 Q212.5,321.30 212.5,323.30 L212.5,325.10 Q212.5,327.10 214.9,327.10 L225.6,327.10 Z" stroke="#222" stroke-width="0.9" fill="#fff"/>
<line x1="215.00" y1="321.40" x2="215.00" y2="327.00" stroke="#222" stroke-width="0.7"/>
<rect x="225.60" y="322.50" width="9.90" height="3.40" rx="0" stroke="#222" stroke-width="0.6" fill="#666"/>
<path d="M244.5,321.50 L237,321.50 Q235.6,321.60 235.6,322.70 L235.6,325.70 Q235.6,326.80 237,326.90 L244.5,326.90" stroke="#222" stroke-width="0.8" fill="#fff"/>
<line x1="225.00" y1="324.20" x2="246.20" y2="324.20" stroke="#222" stroke-width="0.7"/>
<path d="M244.5,291.20 L244.5,293.05 L240.8,293.05 L240.8,295.65 L244.5,295.65 L244.5,297.50" stroke="#222" stroke-width="1.0" fill="none"/>
<path d="M244.5,302.90 L244.5,305.00 L240.8,305.00 L240.8,307.60 L244.5,307.60 L244.5,309.70" stroke="#222" stroke-width="1.0" fill="none"/>
<path d="M244.5,315.10 L244.5,317.00 L240.8,317.00 L240.8,319.60 L244.5,319.60 L244.5,321.50" stroke="#222" stroke-width="1.0" fill="none"/>
<line x1="209.40" y1="306.20" x2="272.50" y2="306.20" stroke="#222" stroke-width="1.0"/>
<line x1="274.00" y1="306.20" x2="275.00" y2="306.20" stroke="#222" stroke-width="1.0"/>
<line x1="276.80" y1="306.20" x2="309.50" y2="306.20" stroke="#222" stroke-width="1.0"/>
<rect x="299.30" y="273.90" width="2.00" height="6.80" rx="0" stroke="#222" stroke-width="1.0" fill="none"/>
<path d="M301.30,273.00 L303.60,273.00 A4.5,4.3 0 0 1 303.60,281.60 L301.30,281.60 Z" stroke="#222" stroke-width="1.0" fill="none"/>
<line x1="303.30" y1="273.10" x2="303.30" y2="281.50" stroke="#222" stroke-width="1.0"/>
<line x1="297.50" y1="277.30" x2="308.60" y2="277.30" stroke="#222" stroke-width="1.0"/>
<rect x="299.30" y="330.20" width="2.00" height="6.80" rx="0" stroke="#222" stroke-width="1.0" fill="none"/>
<path d="M301.30,329.30 L303.60,329.30 A4.5,4.3 0 0 1 303.60,337.90 L301.30,337.90 Z" stroke="#222" stroke-width="1.0" fill="none"/>
<line x1="303.30" y1="329.40" x2="303.30" y2="337.80" stroke="#222" stroke-width="1.0"/>
<line x1="297.50" y1="333.60" x2="308.60" y2="333.60" stroke="#222" stroke-width="1.0"/>
<line x1="201.00" y1="276.10" x2="201.00" y2="336.30" stroke="#222" stroke-width="1.0"/>
<polygon points="201.00,276.10 202.20,282.30 199.80,282.30" fill="#222"/>
<polygon points="201.00,336.30 199.80,330.10 202.20,330.10" fill="#222"/>
<text class="d" x="199.20" y="305.80" font-size="7.8" text-anchor="middle" transform="rotate(-90 199.20 305.80)" textLength="8.68" lengthAdjust="spacingAndGlyphs" stroke="#222" stroke-width="0.25">98</text>
<line x1="210.00" y1="288.50" x2="210.00" y2="324.20" stroke="#222" stroke-width="1.0"/>
<polygon points="210.00,288.50 210.60,291.50 209.40,291.50" fill="#222"/>
<polygon points="210.00,300.20 209.40,297.20 210.60,297.20" fill="#222"/>
<text class="d" x="208.40" y="294.35" font-size="7.8" text-anchor="middle" transform="rotate(-90 208.40 294.35)" textLength="8.68" lengthAdjust="spacingAndGlyphs" stroke="#222" stroke-width="0.25">19</text>
<polygon points="210.00,300.20 210.60,303.20 209.40,303.20" fill="#222"/>
<polygon points="210.00,312.40 209.40,309.40 210.60,309.40" fill="#222"/>
<text class="d" x="208.40" y="306.30" font-size="7.8" text-anchor="middle" transform="rotate(-90 208.40 306.30)" textLength="8.68" lengthAdjust="spacingAndGlyphs" stroke="#222" stroke-width="0.25">19</text>
<polygon points="210.00,312.40 210.60,315.40 209.40,315.40" fill="#222"/>
<polygon points="210.00,324.20 209.40,321.20 210.60,321.20" fill="#222"/>
<text class="d" x="208.40" y="318.30" font-size="7.8" text-anchor="middle" transform="rotate(-90 208.40 318.30)" textLength="8.68" lengthAdjust="spacingAndGlyphs" stroke="#222" stroke-width="0.25">19</text>
<line x1="221.30" y1="339.40" x2="221.30" y2="351.30" stroke="#222" stroke-width="1.0"/>
<line x1="212.50" y1="322.00" x2="212.50" y2="362.00" stroke="#222" stroke-width="1.0"/>
<line x1="221.30" y1="350.00" x2="235.60" y2="350.00" stroke="#222" stroke-width="1.0"/>
<polygon points="221.30,350.00 226.80,349.00 226.80,351.00" fill="#222"/>
<polygon points="235.60,350.00 230.10,351.00 230.10,349.00" fill="#222"/>
<text class="d" x="229.30" y="348.70" font-size="7.8" text-anchor="middle" textLength="8.68" lengthAdjust="spacingAndGlyphs" stroke="#222" stroke-width="0.25">30</text>
<line x1="212.50" y1="360.00" x2="235.60" y2="360.00" stroke="#222" stroke-width="1.0"/>
<polygon points="212.50,360.00 218.70,358.80 218.70,361.20" fill="#222"/>
<polygon points="235.60,360.00 229.40,361.20 229.40,358.80" fill="#222"/>
<text class="d" x="224.70" y="358.00" font-size="7.8" text-anchor="middle" textLength="8.68" lengthAdjust="spacingAndGlyphs" stroke="#222" stroke-width="0.25">40</text>
<line x1="307.50" y1="333.60" x2="307.50" y2="354.50" stroke="#222" stroke-width="1.0"/>
<line x1="235.60" y1="350.00" x2="307.50" y2="350.00" stroke="#222" stroke-width="1.0"/>
<polygon points="235.60,350.00 241.80,348.80 241.80,351.20" fill="#222"/>
<polygon points="307.50,350.00 301.30,351.20 301.30,348.80" fill="#222"/>
<text class="d" x="272.00" y="348.50" font-size="7.8" text-anchor="middle" textLength="13.03" lengthAdjust="spacingAndGlyphs" stroke="#222" stroke-width="0.25">141</text>
<path d="M375.40,287.30 A6.80,6.80 0 0 1 389.00,287.30 L389.00,326.60 A6.80,6.80 0 0 1 375.40,326.60 Z" stroke="#222" stroke-width="1.0" fill="none"/>
<line x1="375.40" y1="273.80" x2="375.40" y2="287.00" stroke="#222" stroke-width="1.0"/>
<line x1="389.00" y1="273.80" x2="389.00" y2="287.00" stroke="#222" stroke-width="1.0"/>
<line x1="375.40" y1="286.60" x2="389.00" y2="286.60" stroke="#222" stroke-width="1.0"/>
<line x1="366.80" y1="277.50" x2="396.00" y2="277.50" stroke="#222" stroke-width="1.0"/>
<polygon points="366.60,277.50 371.60,276.30 371.60,278.70" fill="#222"/>
<polygon points="396.20,277.50 391.20,278.70 391.20,276.30" fill="#222"/>
<text class="d" x="381.00" y="275.30" font-size="7.8" text-anchor="middle" textLength="8.68" lengthAdjust="spacingAndGlyphs" stroke="#222" stroke-width="0.25">17</text>
<line x1="366.60" y1="280.50" x2="382.20" y2="280.50" stroke="#222" stroke-width="1.0"/>
<line x1="366.40" y1="333.40" x2="382.20" y2="333.40" stroke="#222" stroke-width="1.0"/>
<line x1="368.80" y1="280.50" x2="368.80" y2="333.40" stroke="#222" stroke-width="1.0"/>
<polygon points="368.80,280.50 370.00,286.70 367.60,286.70" fill="#222"/>
<polygon points="368.80,333.40 367.60,327.20 370.00,327.20" fill="#222"/>
<text class="d" x="367.20" y="307.50" font-size="7.8" text-anchor="middle" transform="rotate(-90 367.20 307.50)" textLength="8.68" lengthAdjust="spacingAndGlyphs" stroke="#222" stroke-width="0.25">94</text>
<line x1="382.20" y1="282.00" x2="382.20" y2="298.00" stroke="#222" stroke-width="1.0"/>
<line x1="382.20" y1="300.00" x2="382.20" y2="301.00" stroke="#222" stroke-width="1.0"/>
<line x1="382.20" y1="303.00" x2="382.20" y2="327.00" stroke="#222" stroke-width="1.0"/>
<line x1="382.20" y1="339.00" x2="382.20" y2="361.80" stroke="#222" stroke-width="1.0"/>
<path d="M431.80,287.10 A6.70,6.70 0 0 1 445.20,287.10 L445.20,326.70 A6.70,6.70 0 0 1 431.80,326.70 Z" stroke="#222" stroke-width="1.0" fill="none"/>
<line x1="428.00" y1="286.90" x2="447.30" y2="286.90" stroke="#222" stroke-width="1.0"/>
<line x1="428.80" y1="327.90" x2="447.10" y2="327.90" stroke="#222" stroke-width="1.0"/>
<line x1="438.60" y1="279.50" x2="438.60" y2="298.00" stroke="#222" stroke-width="1.0"/>
<line x1="438.60" y1="300.00" x2="438.60" y2="301.00" stroke="#222" stroke-width="1.0"/>
<line x1="438.60" y1="303.00" x2="438.60" y2="330.00" stroke="#222" stroke-width="1.0"/>
<line x1="438.60" y1="339.00" x2="438.60" y2="361.80" stroke="#222" stroke-width="1.0"/>
<line x1="442.90" y1="282.10" x2="448.10" y2="273.90" stroke="#222" stroke-width="1.0"/>
<line x1="448.10" y1="273.90" x2="459.60" y2="273.90" stroke="#222" stroke-width="1.0"/>
<text class="d" x="445.20" y="272.90" font-size="7.8" textLength="14.6" lengthAdjust="spacingAndGlyphs" stroke="#222" stroke-width="0.25">R8.5</text>
<path d="M405.50,276.10 A4.50,4.50 0 0 1 414.50,276.10 L414.50,291.80 A4.50,4.50 0 0 1 405.50,291.80 Z" stroke="#222" stroke-width="1.0" fill="none"/>
<path d="M405.00,322.30 A4.80,4.80 0 0 1 414.60,322.30 L414.60,337.80 A4.80,4.80 0 0 1 405.00,337.80 Z" stroke="#222" stroke-width="1.0" fill="none"/>
<line x1="405.50" y1="263.30" x2="405.50" y2="276.00" stroke="#222" stroke-width="1.0"/>
<line x1="414.50" y1="263.30" x2="414.50" y2="276.00" stroke="#222" stroke-width="1.0"/>
<line x1="396.00" y1="266.40" x2="422.60" y2="266.40" stroke="#222" stroke-width="1.0"/>
<polygon points="395.80,266.40 400.80,265.20 400.80,267.60" fill="#222"/>
<polygon points="422.80,266.40 417.80,267.60 417.80,265.20" fill="#222"/>
<text class="d" x="409.70" y="264.30" font-size="7.8" text-anchor="middle" textLength="4.34" lengthAdjust="spacingAndGlyphs" stroke="#222" stroke-width="0.25">6</text>
<line x1="397.50" y1="271.80" x2="410.00" y2="271.80" stroke="#222" stroke-width="1.0"/>
<line x1="397.50" y1="295.90" x2="410.00" y2="295.90" stroke="#222" stroke-width="1.0"/>
<line x1="399.30" y1="271.80" x2="399.30" y2="295.90" stroke="#222" stroke-width="1.0"/>
<polygon points="399.30,271.80 400.30,276.80 398.30,276.80" fill="#222"/>
<polygon points="399.30,295.90 398.30,290.90 400.30,290.90" fill="#222"/>
<text class="d" x="397.60" y="283.60" font-size="7.8" text-anchor="middle" transform="rotate(-90 397.60 283.60)" textLength="8.68" lengthAdjust="spacingAndGlyphs" stroke="#222" stroke-width="0.25">15</text>
<line x1="403.50" y1="276.00" x2="416.30" y2="276.00" stroke="#222" stroke-width="1.0"/>
<line x1="403.50" y1="291.80" x2="416.30" y2="291.80" stroke="#222" stroke-width="1.0"/>
<line x1="403.00" y1="321.90" x2="416.80" y2="321.90" stroke="#222" stroke-width="1.0"/>
<line x1="403.00" y1="338.50" x2="414.60" y2="338.50" stroke="#222" stroke-width="1.0"/>
<line x1="409.90" y1="272.50" x2="409.90" y2="300.00" stroke="#222" stroke-width="1.0"/>
<line x1="409.90" y1="302.00" x2="409.90" y2="303.00" stroke="#222" stroke-width="1.0"/>
<line x1="409.90" y1="305.00" x2="409.90" y2="312.00" stroke="#222" stroke-width="1.0"/>
<line x1="409.90" y1="314.00" x2="409.90" y2="315.00" stroke="#222" stroke-width="1.0"/>
<line x1="409.90" y1="317.00" x2="409.90" y2="343.00" stroke="#222" stroke-width="1.0"/>
<line x1="405.30" y1="284.50" x2="427.00" y2="284.50" stroke="#222" stroke-width="1.0"/>
<line x1="405.00" y1="329.80" x2="427.80" y2="329.80" stroke="#222" stroke-width="1.0"/>
<line x1="424.20" y1="284.50" x2="424.20" y2="329.80" stroke="#222" stroke-width="1.0"/>
<polygon points="424.20,284.50 425.40,290.70 423.00,290.70" fill="#222"/>
<polygon points="424.20,329.80 423.00,323.60 425.40,323.60" fill="#222"/>
<text class="d" x="422.60" y="305.60" font-size="7.8" text-anchor="middle" transform="rotate(-90 422.60 305.60)" textLength="20.5" lengthAdjust="spacingAndGlyphs" stroke="#222" stroke-width="0.25">98 ± 0.7</text>
<line x1="414.10" y1="339.50" x2="419.60" y2="345.30" stroke="#222" stroke-width="1.0"/>
<line x1="419.60" y1="345.30" x2="428.80" y2="345.30" stroke="#222" stroke-width="1.0"/>
<text class="d" x="420.10" y="344.40" font-size="7.8" textLength="8.2" lengthAdjust="spacingAndGlyphs" stroke="#222" stroke-width="0.25">R3</text>
<line x1="382.20" y1="358.50" x2="438.60" y2="358.50" stroke="#222" stroke-width="1.0"/>
<polygon points="382.20,358.50 388.40,357.30 388.40,359.70" fill="#222"/>
<polygon points="438.60,358.50 432.40,359.70 432.40,357.30" fill="#222"/>
<text class="d" x="410.60" y="356.30" font-size="7.8" text-anchor="middle" textLength="27.8" lengthAdjust="spacingAndGlyphs" stroke="#222" stroke-width="0.25">72 ± 0.2</text>
</svg>
</body></html>
